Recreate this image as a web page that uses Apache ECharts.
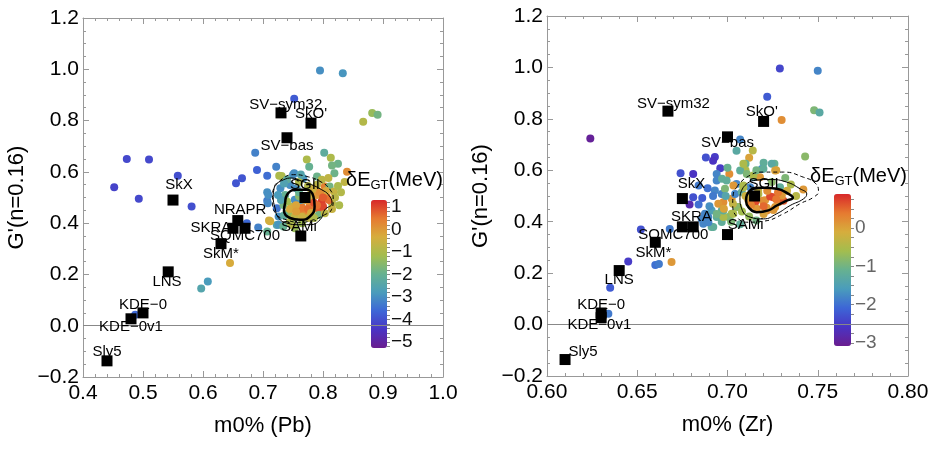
<!DOCTYPE html>
<html>
<head>
<meta charset="utf-8">
<script src="https://cdn.jsdelivr.net/npm/echarts@6.0.0/dist/echarts.min.js"></script>
<style>
  html, body { margin: 0; padding: 0; background: #fff; }
  #main { width: 942px; height: 467px; }
</style>
</head>
<body>
<div id="main"></div>
<script>
// model names (black squares), same order in both panels
var modelNames = ['SV−sym32', "SkO'", 'SV−bas', 'SkX', 'NRAPR', 'SKRA', 'SQMC700', 'SkM*', 'LNS', 'KDE−0', 'KDE−0v1', 'Sly5', 'SGII', 'SAMi'];

// Pb panel: model points [m0%, G']
var pbModels = [[0.73,0.83],[0.78,0.79],[0.74,0.733],[0.55,0.49],[0.658,0.41],[0.65,0.38],[0.67,0.38],[0.63,0.32],[0.542,0.21],[0.50,0.05],[0.48,0.027],[0.44,-0.137],[0.77,0.50],[0.763,0.35]];
// Pb panel: where the model labels sit (data units)
var pbLabelPos = [[0.738,0.862],[0.78,0.828],[0.74,0.702],[0.56,0.55],[0.662,0.452],[0.613,0.382],[0.67,0.351],[0.63,0.281],[0.54,0.172],[0.50,0.082],[0.48,-0.004],[0.44,-0.101],[0.77,0.55],[0.76,0.386]];

// Zr panel: model points (NRAPR not shown)
var zrModels = [[0.667,0.83],[0.72,0.79],[0.70,0.73],[0.675,0.49],null,[0.675,0.38],[0.681,0.38],[0.66,0.32],[0.64,0.21],[0.63,0.045],[0.63,0.027],[0.61,-0.136],[0.715,0.50],[0.70,0.35]];
var zrLabelPos = [[0.67,0.86],[0.719,0.829],[0.70,0.708],[0.68,0.549],null,[0.68,0.42],[0.67,0.35],[0.659,0.28],[0.64,0.175],[0.63,0.078],[0.629,0.0],[0.62,-0.105],[0.72,0.549],[0.71,0.389]];

// ensemble points [m0%, G', dE_GT]
var pbDots = [
  [0.452,0.54,-4.2],[0.473,0.65,-4.1],[0.51,0.648,-4.1],[0.493,0.495,-4.1],[0.558,0.585,-4.0],[0.581,0.465,-4.0],
  [0.655,0.556,-3.9],[0.665,0.575,-3.9],[0.69,0.607,-3.7],[0.707,0.585,-3.5],[0.687,0.675,-3.2],[0.722,0.62,-3.2],
  [0.752,0.885,-3.8],[0.795,0.995,-3.0],[0.833,0.985,-2.9],[0.882,0.83,-1.3],[0.891,0.823,-1.8],[0.867,0.795,-0.9],
  [0.84,0.60,0.2],[0.836,0.56,-0.7],[0.802,0.675,-2.2],[0.813,0.655,-1.0],[0.825,0.632,-1.9],[0.815,0.625,-1.8],[0.819,0.595,-1.9],
  [0.773,0.648,-1.0],[0.777,0.62,-2.0],[0.727,0.585,-1.0],[0.752,0.595,-3.0],
  [0.707,0.52,-3.0],[0.707,0.487,-3.3],[0.673,0.40,-3.6],[0.692,0.383,-3.2],[0.71,0.41,-0.4],[0.723,0.393,-2.5],[0.707,0.367,-2.0],[0.753,0.38,-1.3],
  [0.645,0.245,-0.3],[0.597,0.145,-2.5],[0.608,0.172,-2.8],[0.487,0.043,-3.6],
  [0.731,0.584,-1.0],[0.75,0.589,-3.0],[0.767,0.575,-2.9],[0.709,0.51,-3.0],[0.708,0.478,-3.1],[0.723,0.458,-3.4],[0.726,0.426,-3.0],
  [0.712,0.407,-0.4],[0.726,0.394,-2.9],[0.748,0.413,-2.0],[0.765,0.40,-1.2],
  [0.798,0.485,1.1],[0.806,0.504,0.5],[0.815,0.478,-0.8],[0.79,0.55,-0.8],[0.803,0.543,0.4],[0.811,0.543,-1.8],[0.781,0.523,-0.7],
  [0.759,0.445,0.3],[0.77,0.439,0.2],[0.748,0.465,-0.6],[0.737,0.51,-2.0],[0.745,0.549,-3.0],[0.756,0.536,-3.0],[0.734,0.471,-1.8],
  [0.778,0.471,0.3],[0.787,0.458,0.4],[0.795,0.452,0.8],[0.781,0.497,-0.5],[0.753,0.491,-3.0],[0.765,0.484,-2.8],[0.772,0.504,-3.3],
  [0.742,0.439,-1.3],[0.753,0.426,-0.7],[0.776,0.42,-0.8],[0.793,0.432,-1.8],[0.803,0.439,-0.8],[0.74,0.484,-1.2],[0.729,0.536,-3.0],
  [0.79,0.582,-1.9],[0.798,0.569,-0.8],[0.809,0.576,-0.7],[0.818,0.523,-0.6],[0.748,0.394,-0.8],[0.734,0.387,-2.0],
  [0.765,0.46,0.5],[0.785,0.48,0.9],[0.76,0.505,-1.5],[0.745,0.455,-0.3],[0.79,0.51,0.0],[0.775,0.455,0.6],[0.755,0.47,-0.2],
  [0.8,0.465,1.0],[0.805,0.525,-0.3],
  [0.74,0.57,-2.2],[0.76,0.56,-1.0],[0.775,0.545,-0.9],[0.785,0.535,-0.5],[0.795,0.52,0.2],[0.81,0.49,0.6],[0.82,0.5,-0.8],
  [0.825,0.545,-1.0],[0.83,0.52,-0.9],[0.827,0.47,-1.0],[0.78,0.44,-0.3],[0.765,0.425,-0.5],[0.745,0.405,-1.0],[0.735,0.43,-2.2],
  [0.73,0.49,-2.6],[0.725,0.51,-2.8],[0.76,0.52,-2.0],[0.79,0.47,0.6],[0.77,0.49,-0.1],[0.755,0.445,-0.1],[0.8,0.5,0.8],
  [0.785,0.42,-1.0],[0.815,0.455,-0.6],[0.735,0.555,-2.6],[0.763,0.59,-2.5]
];

var zrDots = [
  [0.624,0.724,-3.0],[0.729,0.996,-2.4],[0.750,0.987,-1.8],[0.722,0.886,-2.2],[0.748,0.833,-0.9],[0.751,0.825,-1.3],[0.730,0.796,0.2],
  [0.743,0.654,-0.8],[0.742,0.525,0.1],[0.707,0.72,-1.8],[0.705,0.676,-1.3],[0.714,0.677,-0.4],[0.712,0.649,0.0],
  [0.688,0.65,-2.3],[0.693,0.652,-2.5],[0.692,0.637,-2.6],[0.696,0.608,-2.5],[0.674,0.588,-2.3],[0.681,0.586,-2.6],[0.684,0.541,-1.9],
  [0.679,0.467,-2.8],[0.681,0.495,-2.3],[0.686,0.492,-2.2],[0.684,0.467,-2.0],
  [0.652,0.37,-2.3],[0.668,0.372,-1.9],[0.645,0.245,-2.5],[0.660,0.232,-2.0],[0.662,0.236,-1.9],[0.669,0.243,0.1],[0.635,0.143,-2.2],[0.634,0.042,-1.9],
  [0.701,0.586,0.2],[0.726,0.625,-1.1],[0.727,0.60,0.0],[0.72,0.629,-1.2],[0.719,0.605,-1.7],[0.71,0.625,-1.1],[0.71,0.60,-0.5],
  [0.694,0.586,-1.8],[0.694,0.56,-1.8],[0.697,0.567,-1.2],[0.705,0.547,-1.8],
  [0.693,0.521,-1.8],[0.6968,0.508,-1.8],[0.6995,0.56,-1.2],[0.707,0.599,-1.2],[0.7088,0.625,-0.5],[0.7107,0.586,-0.9],[0.7199,0.606,-1.2],
  [0.7245,0.625,-1.3],[0.7264,0.599,0.0],[0.7144,0.573,-1.5],[0.6986,0.528,-0.9],[0.7023,0.489,0.1],[0.6977,0.476,0.2],[0.6968,0.444,-1.2],
  [0.6912,0.444,-1.5],[0.6893,0.418,-1.8],[0.694,0.418,-1.2],[0.6912,0.379,-1.2],[0.6857,0.411,-1.8],[0.7023,0.431,-0.5],[0.706,0.457,-0.5],
  [0.7042,0.508,-1.8],[0.7079,0.515,-1.2],[0.7005,0.418,-0.8],[0.6968,0.399,-1.2],[0.7116,0.483,0.1],[0.7153,0.476,0.7],[0.7162,0.45,0.1],
  [0.7208,0.483,0.1],[0.7254,0.495,0.7],[0.7264,0.457,0.1],[0.7218,0.444,0.2],[0.7171,0.508,-0.5],[0.7088,0.541,-0.5],[0.7033,0.541,0.1],
  [0.7125,0.534,-1.8],
  [0.7236,0.498,0.7],[0.7282,0.476,0.1],[0.731,0.482,0.6],[0.7217,0.454,0.1],[0.7195,0.482,0.2],[0.7254,0.446,0.1],[0.7301,0.502,0.1],
  [0.7351,0.545,-0.5],[0.7245,0.554,-0.8],[0.718,0.573,0.1],[0.7143,0.58,-0.5],[0.7291,0.534,-1.2],[0.7088,0.534,-0.5],[0.7051,0.457,-0.8],
  [0.7032,0.431,-0.5],[0.6977,0.418,-0.5],[0.6949,0.47,0.1],[0.6977,0.444,-1.2],[0.6921,0.379,-1.2],[0.6894,0.398,-1.8],[0.6866,0.392,-1.8],
  [0.6875,0.431,-1.8],
  [0.699,0.5,-1.4],[0.703,0.47,-0.3],[0.708,0.44,-0.6],[0.712,0.42,-0.7],[0.716,0.405,-1.0],[0.72,0.43,0.0],[0.713,0.465,0.3],
  [0.717,0.52,-0.3],[0.722,0.52,0.2],[0.728,0.515,0.4],[0.733,0.52,-0.2],[0.738,0.5,-0.4],[0.702,0.4,-0.9],[0.707,0.39,-1.2],
  [0.69,0.46,-1.7],[0.692,0.5,-1.9],[0.689,0.53,-2.0],[0.7,0.61,-1.1],[0.716,0.6,-1.0],[0.732,0.57,-0.9],[0.698,0.45,0.0],
  [0.694,0.43,-1.0],[0.72,0.46,0.5],[0.727,0.487,0.4],[0.71,0.5,-0.2]
];

// density contours
var pbContourThick = [[0.737,0.48],[0.742,0.517],[0.756,0.53],[0.773,0.53],[0.784,0.504],[0.786,0.465],[0.778,0.426],[0.762,0.413],[0.745,0.42],[0.735,0.448],[0.737,0.48]];
var pbContourThin = [[0.72,0.55],[0.734,0.569],[0.748,0.576],[0.765,0.563],[0.781,0.55],[0.798,0.53],[0.809,0.511],[0.815,0.478],[0.803,0.452],[0.795,0.413],[0.778,0.394],[0.759,0.394],[0.74,0.40],[0.726,0.42],[0.72,0.459],[0.717,0.504],[0.72,0.55]];
var pbContourDash = [[0.72,0.543],[0.734,0.576],[0.751,0.589],[0.773,0.582],[0.795,0.563],[0.812,0.53],[0.817,0.491],[0.814,0.452],[0.803,0.433],[0.784,0.413],[0.762,0.403],[0.739,0.413],[0.723,0.433],[0.716,0.478],[0.716,0.517],[0.72,0.543]];

var zrContourThick = [[0.7106,0.502],[0.7143,0.528],[0.7199,0.532],[0.7273,0.528],[0.7338,0.508],[0.7362,0.493],[0.7328,0.482],[0.7273,0.463],[0.7227,0.444],[0.7162,0.437],[0.7116,0.457],[0.7103,0.482],[0.7106,0.502]];
var zrContourThin = [[0.7088,0.534],[0.7143,0.56],[0.7236,0.564],[0.7328,0.554],[0.7402,0.528],[0.7439,0.508],[0.7421,0.489],[0.7347,0.463],[0.7273,0.431],[0.7199,0.411],[0.7125,0.418],[0.7079,0.45],[0.7069,0.495],[0.7088,0.534]];
var zrContourDash = [[0.7051,0.534],[0.7106,0.573],[0.7199,0.593],[0.731,0.593],[0.7421,0.573],[0.7486,0.55],[0.7504,0.519],[0.7476,0.495],[0.7402,0.47],[0.731,0.431],[0.7199,0.402],[0.7106,0.398],[0.7051,0.42],[0.7029,0.467],[0.7032,0.508],[0.7051,0.534]];

// colour bar ranges and ticks
var pbColorRange = [-5.27, 1.31];
var zrColorRange = [-3.08, 0.89];
var pbColorTicks = [-5, -4, -3, -2, -1, 0, 1];
var zrColorTicks = [-3, -2, -1, 0];

var rainbow = ['#6a1d8f', '#4a34c4', '#3d66d6', '#4a9cbc', '#66b190', '#a3bd4e', '#d6ad3d', '#e67a30', '#d8282a'];

var FONT = 'Liberation Sans, Arial, sans-serif';

function minus(s) { return s.replace('-', '−'); }
function fmt(d) {
    return function (v) {
        if (Math.abs(v) < 1e-9) v = 0;
        return minus(v.toFixed(d));
    };
}
function range(a, b, step) {
    var out = [];
    for (var v = a; v <= b + 1e-9; v += step) out.push(Math.round(v * 1000) / 1000);
    return out;
}

function frameAxis(pos, gridIndex, min, max, interval, minorSplit, labels, fmtFn, name, nameGap) {
    var ax = {
        type: 'value', gridIndex: gridIndex, position: pos,
        min: min, max: max, interval: interval,
        axisLine: { show: true, onZero: false, lineStyle: { color: '#999', width: 1 } },
        axisTick: { show: true, inside: true, length: 6, lineStyle: { color: '#999' } },
        minorTick: { show: true, splitNumber: minorSplit, length: 3, lineStyle: { color: '#999' } },
        splitLine: { show: false },
        axisLabel: { show: labels, color: '#000', fontSize: 21, fontFamily: FONT, formatter: fmtFn,
                     margin: (pos === 'bottom') ? 6 : 4 }
    };
    if (name) {
        ax.name = name;
        ax.nameLocation = 'middle';
        ax.nameGap = nameGap;
        ax.nameTextStyle = { color: '#000', fontSize: 22, fontFamily: FONT };
    }
    return ax;
}

function colorAxis(gridIndex, r, ticks, minorStep, labelColor) {
    return [{
        type: 'value', gridIndex: gridIndex, position: 'right', min: r[0], max: r[1],
        axisLine: { show: false },
        axisTick: { show: true, inside: false, length: 5, customValues: ticks, lineStyle: { color: '#666' } },
        splitLine: { show: false },
        axisLabel: { show: true, customValues: ticks, margin: 4, color: labelColor, fontSize: 19, fontFamily: FONT,
                     formatter: function (v) { return minus(String(v)); } }
    }, {
        type: 'value', gridIndex: gridIndex, position: 'right', min: r[0], max: r[1],
        axisLine: { show: false },
        axisTick: { show: true, inside: false, length: 3, customValues: range(Math.ceil(r[0] / minorStep) * minorStep, r[1], minorStep), lineStyle: { color: '#888' } },
        splitLine: { show: false },
        axisLabel: { show: false }
    }];
}

function modelData(models) {
    var out = [];
    for (var i = 0; i < models.length; i++) {
        if (models[i]) out.push({ name: modelNames[i], value: models[i] });
    }
    return out;
}

function contour(data, xi, yi, width, type) {
    return {
        type: 'line', xAxisIndex: xi, yAxisIndex: yi, data: data, smooth: 0.5,
        symbol: 'none', silent: true, z: 3,
        lineStyle: { color: '#000', width: width, type: type || 'solid' }
    };
}

function panelSeries(dots, models, labels, xi, yi) {
    return [
        {
            type: 'scatter', xAxisIndex: xi, yAxisIndex: yi, data: dots, symbolSize: 8, z: 2,
            itemStyle: { opacity: 1 },
            markLine: {
                silent: true, symbol: ['none', 'none'], label: { show: false },
                lineStyle: { color: '#888', width: 1, type: 'solid' },
                data: [{ yAxis: 0 }]
            }
        },
        {
            type: 'scatter', xAxisIndex: xi, yAxisIndex: yi, data: modelData(models),
            symbol: 'rect', symbolSize: 11, itemStyle: { color: '#000', opacity: 1 }, z: 4
        },
        {
            type: 'scatter', xAxisIndex: xi, yAxisIndex: yi, data: modelData(labels),
            symbolSize: 1, itemStyle: { color: 'rgba(0,0,0,0)', opacity: 1 }, z: 5,
            label: { show: true, position: 'inside', formatter: '{b}', color: '#000', fontSize: 15, fontFamily: FONT }
        }
    ];
}

var chart = echarts.init(document.getElementById('main'));

var series = [];
series = series.concat(panelSeries(pbDots, pbModels, pbLabelPos, 0, 0));
series.push(contour(pbContourThick, 0, 0, 2.5), contour(pbContourThin, 0, 0, 1), contour(pbContourDash, 0, 0, 1, [4, 3]));
series = series.concat(panelSeries(zrDots, zrModels, zrLabelPos, 2, 2));
series.push(contour(zrContourThick, 2, 2, 2.5), contour(zrContourThin, 2, 2, 1), contour(zrContourDash, 2, 2, 1, [4, 3]));

var titleRich = {
    a: { fontSize: 20, fontFamily: FONT, fontWeight: 'normal', color: '#000', lineHeight: 24 },
    b: { fontSize: 13, fontFamily: FONT, fontWeight: 'normal', color: '#000', verticalAlign: 'bottom', lineHeight: 14 }
};

var option = {
    animation: false,
    backgroundColor: '#fff',
    title: [
        { text: '{a|δE}{b|GT}{a|(MeV)}', left: 346, top: 168, padding: 0, textStyle: { fontWeight: 'normal', rich: titleRich } },
        { text: '{a|δE}{b|GT}{a|(MeV)}', left: 810, top: 164, padding: 0, textStyle: { fontWeight: 'normal', rich: titleRich } }
    ],
    grid: [
        { left: 83, top: 18, width: 360, height: 359 },
        { left: 547, top: 16, width: 361, height: 360 },
        { left: 371, top: 200, width: 16, height: 148 },
        { left: 834, top: 194, width: 17, height: 152 }
    ],
    xAxis: [
        frameAxis('bottom', 0, 0.4, 1.0, 0.1, 5, true, fmt(1), 'm0% (Pb)', 38),
        frameAxis('top', 0, 0.4, 1.0, 0.1, 5, false, fmt(1)),
        frameAxis('bottom', 1, 0.6, 0.8, 0.05, 5, true, fmt(2), 'm0% (Zr)', 38),
        frameAxis('top', 1, 0.6, 0.8, 0.05, 5, false, fmt(2)),
        { type: 'value', gridIndex: 2, show: false, min: 0, max: 1 },
        { type: 'value', gridIndex: 3, show: false, min: 0, max: 1 }
    ],
    yAxis: [
        frameAxis('left', 0, -0.2, 1.2, 0.2, 4, true, fmt(1), "G'(n=0.16)", 55),
        frameAxis('right', 0, -0.2, 1.2, 0.2, 4, false, fmt(1)),
        frameAxis('left', 1, -0.2, 1.2, 0.2, 4, true, fmt(1), "G'(n=0.16)", 55),
        frameAxis('right', 1, -0.2, 1.2, 0.2, 4, false, fmt(1))
    ].concat(colorAxis(2, pbColorRange, pbColorTicks, 0.2, '#111'))
     .concat(colorAxis(3, zrColorRange, zrColorTicks, 0.25, '#666')),
    visualMap: [
        {
            type: 'continuous', seriesIndex: 0, dimension: 2, min: pbColorRange[0], max: pbColorRange[1],
            orient: 'vertical', left: 371, top: 200, itemWidth: 16, itemHeight: 148, padding: 0,
            calculable: false, hoverLink: false, text: null, inRange: { color: rainbow }
        },
        {
            type: 'continuous', seriesIndex: 6, dimension: 2, min: zrColorRange[0], max: zrColorRange[1],
            orient: 'vertical', left: 834, top: 194, itemWidth: 17, itemHeight: 152, padding: 0,
            calculable: false, hoverLink: false, text: null, inRange: { color: rainbow }
        }
    ],
    series: series
};

chart.setOption(option);
</script>
</body>
</html>
